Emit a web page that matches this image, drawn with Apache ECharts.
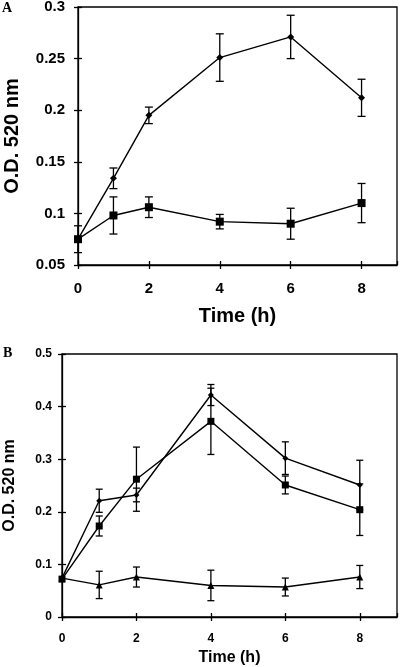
<!DOCTYPE html>
<html>
<head>
<meta charset="utf-8">
<script src="https://cdn.jsdelivr.net/npm/echarts@6/dist/echarts.min.js"></script>
<style>
html,body{margin:0;padding:0;background:#fff;}
#chart{width:400px;height:667px;}
</style>
</head>
<body>
<div id="chart"></div>
<script>
// ---- Data ----
const times = [0, 1, 2, 4, 6, 8];
const xTickLabels = ['0', '2', '4', '6', '8'];

// Panel A
const diamondA    = [0.075, 0.134, 0.195, 0.251, 0.271, 0.212];
const diamondAErr = [0.013, 0.010, 0.008, 0.023, 0.021, 0.018];
const squareA     = [0.075, 0.098, 0.106, 0.092, 0.090, 0.110];
const squareAErr  = [0, 0.018, 0.010, 0.007, 0.015, 0.019];

// Panel B
const diamondB     = [0.074, 0.221, 0.232, 0.422, 0.302, 0.251];
const diamondBErr  = [0, 0.022, 0.013, 0.020, 0.031, 0.047];
const squareB      = [0.072, 0.173, 0.262, 0.372, 0.251, 0.204];
const squareBErr   = [0, 0.019, 0.061, 0.063, 0.017, 0.049];
const triangleB    = [0.074, 0.061, 0.076, 0.060, 0.057, 0.076];
const triangleBErr = [0, 0.026, 0.019, 0.029, 0.017, 0.022];

// ---- Helpers ----
const SANS = '"Liberation Sans", Arial, sans-serif';
const SERIF = '"Liberation Serif", "Times New Roman", serif';

function pts(vals) { return times.map((t, i) => [t, vals[i]]); }
function errs(vals, e) {
  const out = [];
  times.forEach((t, i) => { if (e[i] > 0) out.push([t, vals[i] - e[i], vals[i] + e[i]]); });
  return out;
}

function errSeries(vals, e, xi, yi, capW) {
  return {
    type: 'custom', xAxisIndex: xi, yAxisIndex: yi, z: 3,
    data: errs(vals, e),
    encode: { x: 0, y: [1, 2] },
    silent: true,
    renderItem: function (params, api) {
      const x = api.value(0), lo = api.value(1), hi = api.value(2);
      const a = api.coord([x, hi]), b = api.coord([x, lo]);
      const st = { stroke: '#000', lineWidth: 1.3 };
      return {
        type: 'group', children: [
          { type: 'line', shape: { x1: a[0], y1: a[1], x2: b[0], y2: b[1] }, style: st },
          { type: 'line', shape: { x1: a[0] - capW, y1: a[1], x2: a[0] + capW, y2: a[1] }, style: st },
          { type: 'line', shape: { x1: b[0] - capW, y1: b[1], x2: b[0] + capW, y2: b[1] }, style: st }
        ]
      };
    }
  };
}

function lineSeries(vals, xi, yi, symbol, size) {
  return {
    type: 'line', xAxisIndex: xi, yAxisIndex: yi, z: 4,
    data: pts(vals), symbol: symbol, symbolSize: size, showSymbol: true,
    lineStyle: { color: '#000', width: 1.4 },
    itemStyle: { color: '#000' },
    animation: false
  };
}

function xAxes(gridIndex, labelSize, nameSize, nameGap, margin) {
  const base = {
    type: 'value', gridIndex: gridIndex, min: 0, max: 9, interval: 2,
    splitLine: { show: false }
  };
  return [
    Object.assign({}, base, {
      name: 'Time (h)', nameLocation: 'middle', nameGap: nameGap,
      nameTextStyle: { fontFamily: SANS, fontWeight: 'bold', fontSize: nameSize, color: '#000' },
      axisLine: { show: true, lineStyle: { color: '#000', width: 1.3 } },
      axisTick: { show: true, inside: false, length: 4, lineStyle: { color: '#000', width: 1.3 } },
      axisLabel: { show: true, margin: margin, showMaxLabel: false, color: '#000',
        fontFamily: SANS, fontWeight: 'bold', fontSize: labelSize,
        formatter: v => (xTickLabels.indexOf(String(v)) >= 0 ? String(v) : '') }
    }),
    Object.assign({}, base, {
      position: 'bottom', offset: 0,
      axisLine: { show: false },
      axisTick: { show: true, inside: true, length: 4, lineStyle: { color: '#000', width: 1.3 } },
      axisLabel: { show: false }
    })
  ];
}

function yAxes(gridIndex, min, max, interval, labelSize, nameSize, nameGap, margin) {
  const base = {
    type: 'value', gridIndex: gridIndex, min: min, max: max, interval: interval,
    splitLine: { show: false }
  };
  return [
    Object.assign({}, base, {
      name: 'O.D. 520 nm', nameLocation: 'middle', nameGap: nameGap,
      nameTextStyle: { fontFamily: SANS, fontWeight: 'bold', fontSize: nameSize, color: '#000' },
      axisLine: { show: true, lineStyle: { color: '#000', width: 1.3 } },
      axisTick: { show: true, inside: false, length: 4, lineStyle: { color: '#000', width: 1.3 } },
      axisLabel: { show: true, margin: margin, color: '#000',
        fontFamily: SANS, fontWeight: 'bold', fontSize: labelSize }
    }),
    Object.assign({}, base, {
      position: 'left', offset: 0,
      axisLine: { show: false },
      axisTick: { show: true, inside: true, length: 4, lineStyle: { color: '#000', width: 1.3 } },
      axisLabel: { show: false }
    })
  ];
}

const chart = echarts.init(document.getElementById('chart'), null, { renderer: 'canvas' });
chart.setOption({
  animation: false,
  backgroundColor: '#fff',
  grid: [
    { left: 78, top: 7, right: 3, bottom: 402, containLabel: false, outerBoundsMode: 'none',
      show: true, borderColor: '#000', borderWidth: 1.3, backgroundColor: 'transparent' },
    { left: 62, top: 354, right: 3, bottom: 50, containLabel: false, outerBoundsMode: 'none',
      show: true, borderColor: '#000', borderWidth: 1.3, backgroundColor: 'transparent' }
  ],
  xAxis: [].concat(xAxes(0, 15, 20, 41, 16), xAxes(1, 12, 16, 33, 16)),
  yAxis: [].concat(yAxes(0, 0.05, 0.3, 0.05, 15, 20, 56, 13), yAxes(1, 0, 0.5, 0.1, 12, 16, 44, 10)),
  graphic: [
    { type: 'text', left: 2, top: 1, style: { text: 'A', font: 'bold 14px ' + SERIF, fill: '#000' } },
    { type: 'text', left: 3, top: 346, style: { text: 'B', font: 'bold 14px ' + SERIF, fill: '#000' } }
  ],
  series: [
    errSeries(diamondA, diamondAErr, 0, 0, 4),
    errSeries(squareA, squareAErr, 0, 0, 4),
    lineSeries(diamondA, 0, 0, 'diamond', 7),
    lineSeries(squareA, 0, 0, 'rect', 8),

    errSeries(diamondB, diamondBErr, 2, 2, 3.5),
    errSeries(squareB, squareBErr, 2, 2, 3.5),
    errSeries(triangleB, triangleBErr, 2, 2, 3.5),
    lineSeries(diamondB, 2, 2, 'diamond', 6),
    lineSeries(squareB, 2, 2, 'rect', 7),
    lineSeries(triangleB, 2, 2, 'triangle', 7)
  ]
});
</script>
</body>
</html>
